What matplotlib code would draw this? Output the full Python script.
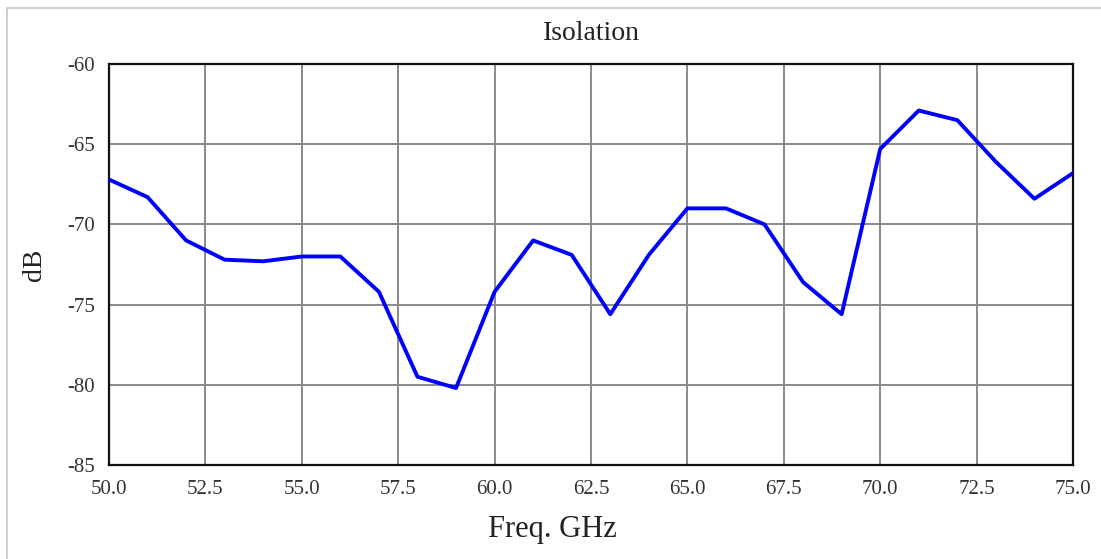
import numpy as np
import matplotlib
matplotlib.use('Agg')
import matplotlib.pyplot as plt
from matplotlib.patches import Rectangle

plt.rcParams['font.family'] = ['Liberation Serif', 'DejaVu Serif']

# isolation data, one point per GHz
freq = [50, 51, 52, 53, 54, 55, 56, 57, 58, 59, 60, 61, 62, 63, 64, 65, 66,
        67, 68, 69, 70, 71, 72, 73, 74, 75]
iso_db = [-67.2, -68.3, -71.0, -72.2, -72.3, -72.0, -72.0, -74.2, -79.5, -80.2,
          -74.2, -71.0, -71.9, -75.6, -71.9, -69.0, -69.0, -70.0, -73.6, -75.6,
          -65.3, -62.9, -63.5, -66.1, -68.4, -66.8]

xticks = [50.0, 52.5, 55.0, 57.5, 60.0, 62.5, 65.0, 67.5, 70.0, 72.5, 75.0]
yticks = [-60, -65, -70, -75, -80, -85]

fig = plt.figure(figsize=(11.01, 5.59), dpi=100)
ax = fig.add_axes([109/1101, 1 - 465/559, (1073 - 109)/1101, (465 - 64)/559])

# light frame, open on the right and bottom edges of the image
fig.patches.append(Rectangle((7/1101, -0.05), 1.2, 1 - 8/559 + 0.05,
                             transform=fig.transFigure, fill=False,
                             edgecolor='#c8c8c8', linewidth=1.2))

ax.plot(freq, iso_db, color='#0000ff', linewidth=2.8, zorder=3)

ax.set_xlim(50, 75)
ax.set_ylim(-85, -60)
ax.set_xticks(xticks)
ax.set_xticklabels(['%.1f' % t for t in xticks])
ax.set_yticks(yticks)
ax.set_yticklabels([str(t) for t in yticks])
ax.grid(True, color='#8a8a8a', linewidth=1.4)
ax.set_axisbelow(True)
for s in ax.spines.values():
    s.set_linewidth(1.6)
    s.set_color('#111111')
ax.tick_params(length=0, labelsize=15, colors='#333333')
ax.tick_params(axis='x', pad=11)
ax.tick_params(axis='y', pad=10)

ax.set_title('Isolation', fontsize=20, pad=17, color='#222222')
ax.set_xlabel('Freq. GHz', fontsize=22, color='#222222')
ax.xaxis.set_label_coords(0.46, -0.125)
ax.set_ylabel('dB', fontsize=20, color='#222222')
ax.yaxis.set_label_coords(-0.064, 0.5)

fig.savefig('out.png', dpi=100)
